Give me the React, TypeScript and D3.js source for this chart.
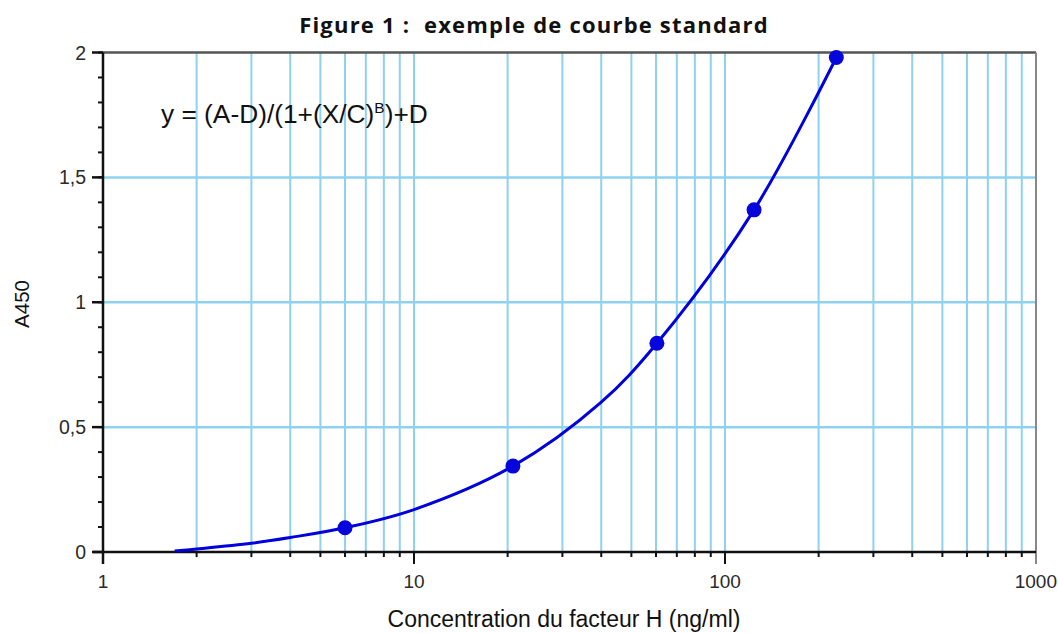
import * as d3 from "d3";
import React from "react";

// standard points
const concentrations = [6, 20.8, 60.4, 124, 228];
const absorbances = [0.097, 0.344, 0.836, 1.37, 1.98];

// fitted curve
const curveX = [1.7, 2, 3, 4, 6, 10, 20.8, 40, 60.4, 124, 228];
const curveY = [0.004, 0.012, 0.035, 0.058, 0.097, 0.17, 0.344, 0.6, 0.836, 1.37, 1.98];

const yTickValues = [0, 0.5, 1, 1.5, 2];
const yTickLabels = ["0", "0,5", "1", "1,5", "2"];
const xTickValues = [1, 10, 100, 1000];
const xTickLabels = ["1", "10", "100", "1000"];

const W = 1058;
const H = 633;
const left = 103;
const right = 1036;
const top = 52.5;
const bottom = 552;

const App = () => {
  const x = d3.scaleLog().domain([1, 1000]).range([left, right]);
  const y = d3.scaleLinear().domain([0, 2]).range([bottom, top]);

  // 2..9 in each decade, plus the decades
  const minorX: number[] = [];
  for (let d = 1; d <= 100; d *= 10) {
    for (let k = 1; k <= 9; k++) {
      if (d * k > 1) minorX.push(d * k);
    }
  }
  const minorY = d3.range(0, 21).map((i) => i / 10);

  const line = d3
    .line<number>()
    .x((_, i) => x(curveX[i]))
    .y((d) => y(d))
    .curve(d3.curveCatmullRom.alpha(0.5));

  const grid = "#8fd2f0";
  const labelFont = "'Liberation Sans', Arial, sans-serif";

  return (
    <svg width={W} height={H} style={{ position: "absolute", left: 0, top: 0 }}>
      <rect width={W} height={H} fill="#fff" />
      <text
        x={534}
        y={33}
        textAnchor="middle"
        fontFamily="'Open Sans', sans-serif"
        fontWeight="bold"
        fontSize={22}
        letterSpacing={1.2}
        fill="#111"
        style={{ whiteSpace: "pre" }}
      >
        Figure 1 :  exemple de courbe standard
      </text>

      {/* grid */}
      {minorX.map((v) => (
        <line key={"gx" + v} x1={x(v)} x2={x(v)} y1={top} y2={bottom} stroke={grid} strokeWidth={2} />
      ))}
      {yTickValues.slice(1, 4).map((v) => (
        <line key={"gy" + v} x1={left} x2={right} y1={y(v)} y2={y(v)} stroke={grid} strokeWidth={2.5} />
      ))}

      {/* frame */}
      <line x1={left} x2={right} y1={top} y2={top} stroke="#555" strokeWidth={2.5} />
      <line x1={right} x2={right} y1={top} y2={bottom + 12} stroke="#888" strokeWidth={2} />
      <line x1={left} x2={left} y1={top} y2={bottom + 12} stroke="#111" strokeWidth={2.5} />
      <line x1={left - 10} x2={right} y1={bottom} y2={bottom} stroke="#111" strokeWidth={2.5} />

      {/* ticks */}
      {minorX.map((v) => (
        <line key={"tx" + v} x1={x(v)} x2={x(v)} y1={bottom} y2={bottom + 5} stroke="#111" strokeWidth={2} />
      ))}
      {xTickValues.slice(1, 3).map((v) => (
        <line key={"tX" + v} x1={x(v)} x2={x(v)} y1={bottom} y2={bottom + 12} stroke="#111" strokeWidth={2} />
      ))}
      {minorY.map((v) => (
        <line key={"ty" + v} x1={left - 5} x2={left} y1={y(v)} y2={y(v)} stroke="#111" strokeWidth={2} />
      ))}
      {yTickValues.map((v) => (
        <line key={"tY" + v} x1={left - 11} x2={left} y1={y(v)} y2={y(v)} stroke="#111" strokeWidth={2.5} />
      ))}

      {/* tick labels */}
      {yTickValues.map((v, i) => (
        <text
          key={"ly" + v}
          x={86}
          y={y(v) + 7}
          textAnchor="end"
          fontFamily={labelFont}
          fontSize={19.5}
          fill="#2a2a2a"
        >
          {yTickLabels[i]}
        </text>
      ))}
      {xTickValues.map((v, i) => (
        <text
          key={"lx" + v}
          x={i === 3 ? 1057 : x(v)}
          y={588}
          textAnchor={i === 3 ? "end" : "middle"}
          fontFamily={labelFont}
          fontSize={19}
          fill="#2a2a2a"
        >
          {xTickLabels[i]}
        </text>
      ))}

      {/* equation */}
      <text x={161} y={123} fontFamily={labelFont} fontSize={26.3} fill="#111">
        y = (A-D)/(1+(X/C)
        <tspan fontSize={15.5} dy={-10}>B</tspan>
        <tspan dy={10}>)+D</tspan>
      </text>

      {/* curve and points */}
      <path d={line(curveY) || ""} fill="none" stroke="#0000dd" strokeWidth={3} />
      {concentrations.map((c, i) => (
        <circle key={"p" + i} cx={x(c)} cy={y(absorbances[i])} r={7.5} fill="#0505dc" />
      ))}

      {/* axis titles */}
      <text
        transform="translate(29,304) rotate(-90)"
        textAnchor="middle"
        fontFamily={labelFont}
        fontSize={20.5}
        fill="#111"
      >
        A450
      </text>
      <text x={564} y={627} textAnchor="middle" fontFamily={labelFont} fontSize={23} fill="#111">
        Concentration du facteur H (ng/ml)
      </text>
    </svg>
  );
};

export default App;
